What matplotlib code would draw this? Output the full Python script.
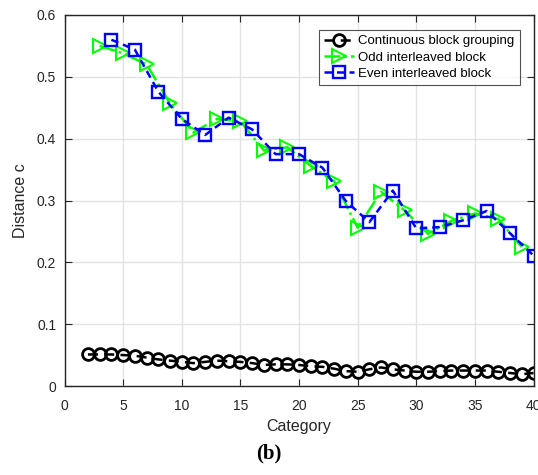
import matplotlib
matplotlib.use("Agg")
import matplotlib.pyplot as plt
import numpy as np

plt.rcParams['font.family'] = ['Liberation Sans', 'DejaVu Sans']

x_cont = list(range(2, 41))
y_cont = [0.051, 0.051, 0.051, 0.050, 0.049, 0.046, 0.043, 0.041, 0.039, 0.037,
          0.039, 0.041, 0.040, 0.039, 0.037, 0.034, 0.035, 0.035, 0.034, 0.032,
          0.031, 0.028, 0.024, 0.023, 0.027, 0.030, 0.027, 0.025, 0.023, 0.023,
          0.024, 0.025, 0.025, 0.025, 0.025, 0.023, 0.021, 0.019, 0.021]

x_odd = list(range(3, 40, 2))
y_odd = [0.550, 0.538, 0.520, 0.457, 0.410, 0.432, 0.428, 0.381, 0.386, 0.356,
         0.331, 0.256, 0.314, 0.284, 0.246, 0.267, 0.279, 0.270, 0.225]

x_even = list(range(4, 41, 2))
y_even = [0.560, 0.544, 0.476, 0.432, 0.406, 0.434, 0.415, 0.375, 0.375, 0.353,
          0.299, 0.265, 0.316, 0.255, 0.257, 0.268, 0.283, 0.247, 0.211]

labels = ['Continuous block grouping', 'Odd interleaved block', 'Even interleaved block']

fig = plt.figure(figsize=(5.38, 4.75), dpi=100)
ax = fig.add_axes([64.5/538, 1-386/475, (533.5-64.5)/538, (386-15)/475])

ax.plot(x_cont, y_cont, linestyle='--', color='black', lw=1.8, marker='o', ms=8.5,
        mfc='none', mec='black', mew=2, label=labels[0], dashes=(4, 2.5))
ax.plot(x_odd, y_odd, linestyle='-.', color='#00ff00', lw=1.8, marker='>', ms=10,
        mfc='none', mec='#00ff00', mew=1.5, label=labels[1])
ax.plot(x_even, y_even, linestyle='--', color='#0000ff', lw=1.8, marker='s', ms=8,
        mfc='none', mec='#0000ff', mew=1.7, label=labels[2], dashes=(3, 2))

ax.set_xlim(0, 40)
ax.set_ylim(0, 0.6)
ax.set_xticks(np.arange(0, 41, 5))
ax.set_yticks(np.arange(0, 0.61, 0.1))
ax.set_yticklabels(['0', '0.1', '0.2', '0.3', '0.4', '0.5', '0.6'])
ax.grid(True, color='#e3e3e3', lw=1)
ax.set_axisbelow(True)
ax.tick_params(direction='in', top=True, right=True, length=5, labelsize=10,
               colors='#262626', labelcolor='#262626')
ax.tick_params(axis='x', pad=9)
ax.tick_params(axis='y', pad=6)
for s in ax.spines.values():
    s.set_color('#262626')
    s.set_linewidth(1)

ax.set_xlabel('Category', fontsize=11.5, color='#262626', labelpad=5)
ax.set_ylabel('Distance c', fontsize=11.5, color='#262626', labelpad=6)

leg = ax.legend(loc='upper right', bbox_to_anchor=(0.971, 0.96), fontsize=9.5,
                frameon=True, fancybox=False, edgecolor='#262626',
                handlelength=2.3, handletextpad=0.3, borderpad=0.4,
                labelspacing=0.3, borderaxespad=0.0)
leg.get_frame().set_linewidth(0.8)

fig.text(0.5, 1-453/475, '(b)', ha='center', va='center', fontsize=15,
         fontweight='bold', family=['Liberation Serif', 'DejaVu Serif'])

fig.savefig('out.png', dpi=100)
